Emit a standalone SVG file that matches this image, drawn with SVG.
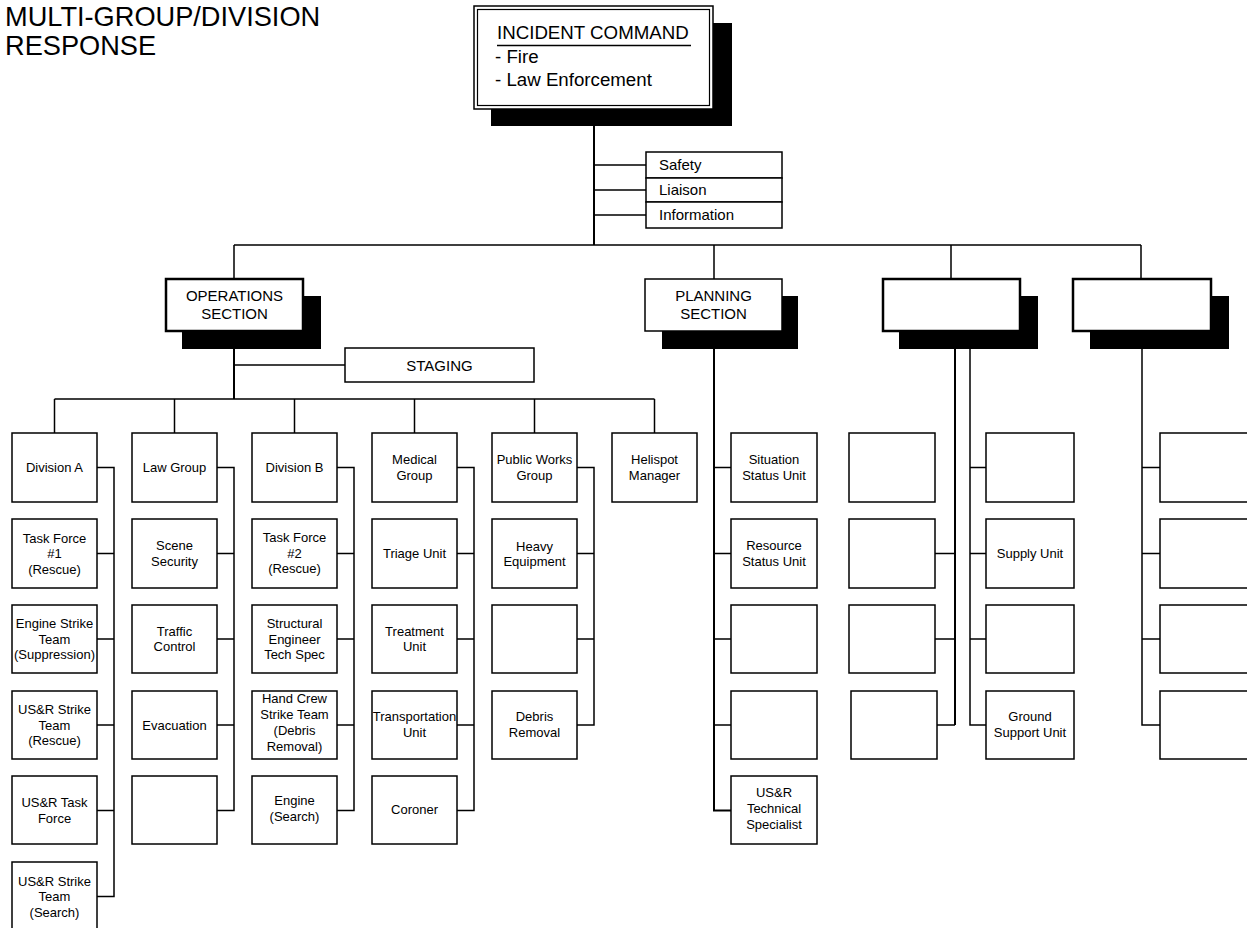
<svg xmlns="http://www.w3.org/2000/svg" width="1247" height="928" viewBox="0 0 1247 928">
  <style>
    text { font-family: "Liberation Sans", Arial, sans-serif; fill: #000; }
    .title { font-size: 27.2px; }
    .ic { font-size: 18.7px; }
    .staff { font-size: 15px; }
    .sec { font-size: 15px; text-anchor: middle; }
    .unit { font-size: 13px; text-anchor: middle; }
    .box { fill: #fff; stroke: #000; stroke-width: 1.5; }
    .secbox { fill: #fff; stroke: #000; stroke-width: 2.5; }
    .secbox-thin { fill: #fff; stroke: #000; stroke-width: 1.5; }
    .shadow { fill: #000; }
    .trunk { fill: none; stroke: #000; stroke-width: 2; }
    .line { fill: none; stroke: #000; stroke-width: 1.5; }
  </style>

  <!-- Title -->
  <text class="title" x="5" y="26">MULTI-GROUP/DIVISION</text>
  <text class="title" x="5" y="55">RESPONSE</text>

  <!-- Connectors -->
  <g id="connectors">
    <!-- command trunk and staff ticks -->
    <path class="trunk" d="M594,106 V245"/>
    <path class="line" d="M594,165 H646 M594,190 H646 M594,215 H646"/>
    <!-- section bar and drops -->
    <path class="line" d="M234,245 H1141 M234,245 V279 M714,245 V279 M951,245 V279 M1141,245 V279"/>
    <!-- operations trunk -->
    <path class="trunk" d="M234,349 V399"/>
    <path class="line" d="M234,365 H345"/>
    <path class="line" d="M54.5,399 H654.5 M54.5,399 V433 M174.5,399 V433 M294.5,399 V433 M414.5,399 V433 M534.5,399 V433 M654.5,399 V433"/>
    <!-- Division A column -->
    <path class="line" d="M97,467.5 H114 V896.5 H97 M97,553.5 H114 M97,639 H114 M97,725 H114 M97,810.5 H114"/>
    <!-- Law Group column -->
    <path class="line" d="M217,467.5 H234 V810.5 H217 M217,553.5 H234 M217,639 H234 M217,725 H234"/>
    <!-- Division B column -->
    <path class="line" d="M337,467.5 H354 V810.5 H337 M337,553.5 H354 M337,639 H354 M337,725 H354"/>
    <!-- Medical Group column -->
    <path class="line" d="M457,467.5 H474 V810.5 H457 M457,553.5 H474 M457,639 H474 M457,725 H474"/>
    <!-- Public Works column -->
    <path class="line" d="M577,467.5 H594 V725 H577 M577,553.5 H594 M577,639 H594"/>
    <!-- Planning column -->
    <path class="trunk" d="M714,349 V810.5 H731"/>
    <path class="line" d="M714,467.5 H731 M714,553.5 H731 M714,639 H731 M714,725 H731"/>
    <!-- third section columns -->
    <path class="trunk" d="M955,349 V725"/>
    <path class="line" d="M934,553.5 H955 M934,639 H955 M937,725 H955"/>
    <path class="line" d="M970,349 V725 H986 M970,467.5 H986 M970,553.5 H986 M970,639 H986"/>
    <!-- fourth section column -->
    <path class="line" d="M1142,349 V725 H1160 M1142,467.5 H1160 M1142,553.5 H1160 M1142,639 H1160"/>
  </g>

  <!-- Incident Command -->
  <g id="incident-command">
    <rect class="shadow" x="491" y="23" width="241" height="103"/>
    <rect class="box" x="474" y="6" width="239" height="103"/>
    <rect fill="none" stroke="#000" stroke-width="1.2" x="477.5" y="9.5" width="232" height="96"/>
    <text class="ic" x="497" y="39">INCIDENT COMMAND</text>
    <line x1="497" y1="45.5" x2="691" y2="45.5" stroke="#000" stroke-width="1.3"/>
    <text class="ic" x="495" y="63">- Fire</text>
    <text class="ic" x="495" y="85.5">- Law Enforcement</text>
  </g>

  <!-- Command staff -->
  <g id="safety">
    <rect class="box" x="646" y="152" width="136" height="26"/>
    <text class="staff" x="659" y="170">Safety</text>
  </g>
  <g id="liaison">
    <rect class="box" x="646" y="178" width="136" height="24"/>
    <text class="staff" x="659" y="195">Liaison</text>
  </g>
  <g id="information">
    <rect class="box" x="646" y="202" width="136" height="26"/>
    <text class="staff" x="659" y="220">Information</text>
  </g>

  <!-- Sections -->
  <g id="operations-section">
    <rect class="shadow" x="182" y="296" width="139" height="53"/>
    <rect class="secbox" x="166" y="279" width="137" height="52"/>
    <text class="sec" x="234.5" y="300.5">OPERATIONS</text>
    <text class="sec" x="234.5" y="318.5">SECTION</text>
  </g>
  <g id="staging">
    <rect class="box" x="345" y="348" width="189" height="34"/>
    <text class="sec" x="439.5" y="370.5">STAGING</text>
  </g>
  <g id="planning-section">
    <rect class="shadow" x="662" y="296" width="136" height="53"/>
    <rect class="secbox-thin" x="645" y="279" width="137" height="52"/>
    <text class="sec" x="713.5" y="300.5">PLANNING</text>
    <text class="sec" x="713.5" y="318.5">SECTION</text>
  </g>
  <g id="section-3">
    <rect class="shadow" x="899" y="296" width="139" height="53"/>
    <rect class="secbox" x="883" y="279" width="137" height="52"/>
  </g>
  <g id="section-4">
    <rect class="shadow" x="1090" y="296" width="139" height="53"/>
    <rect class="secbox" x="1073" y="279" width="138" height="52"/>
  </g>

  <!-- Division A column -->
  <g id="division-a">
    <rect class="box" x="12" y="433" width="85" height="69"/>
    <text class="unit" x="54.5" y="472">Division A</text>
  </g>
  <g id="task-force-1">
    <rect class="box" x="12" y="519" width="85" height="69"/>
    <text class="unit" x="54.5" y="542.5">Task Force</text>
    <text class="unit" x="54.5" y="558">#1</text>
    <text class="unit" x="54.5" y="573.5">(Rescue)</text>
  </g>
  <g id="engine-strike-team">
    <rect class="box" x="12" y="605" width="85" height="68"/>
    <text class="unit" x="54.5" y="628">Engine Strike</text>
    <text class="unit" x="54.5" y="643.5">Team</text>
    <text class="unit" x="54.5" y="659">(Suppression)</text>
  </g>
  <g id="usr-strike-team-rescue">
    <rect class="box" x="12" y="691" width="85" height="68"/>
    <text class="unit" x="54.5" y="714">US&amp;R Strike</text>
    <text class="unit" x="54.5" y="729.5">Team</text>
    <text class="unit" x="54.5" y="745">(Rescue)</text>
  </g>
  <g id="usr-task-force">
    <rect class="box" x="12" y="776" width="85" height="68"/>
    <text class="unit" x="54.5" y="807">US&amp;R Task</text>
    <text class="unit" x="54.5" y="822.5">Force</text>
  </g>
  <g id="usr-strike-team-search">
    <rect class="box" x="12" y="862" width="85" height="69"/>
    <text class="unit" x="54.5" y="885.5">US&amp;R Strike</text>
    <text class="unit" x="54.5" y="901">Team</text>
    <text class="unit" x="54.5" y="916.5">(Search)</text>
  </g>

  <!-- Law Group column -->
  <g id="law-group">
    <rect class="box" x="132" y="433" width="85" height="69"/>
    <text class="unit" x="174.5" y="472">Law Group</text>
  </g>
  <g id="scene-security">
    <rect class="box" x="132" y="519" width="85" height="69"/>
    <text class="unit" x="174.5" y="550">Scene</text>
    <text class="unit" x="174.5" y="565.5">Security</text>
  </g>
  <g id="traffic-control">
    <rect class="box" x="132" y="605" width="85" height="68"/>
    <text class="unit" x="174.5" y="635.5">Traffic</text>
    <text class="unit" x="174.5" y="651">Control</text>
  </g>
  <g id="evacuation">
    <rect class="box" x="132" y="691" width="85" height="68"/>
    <text class="unit" x="174.5" y="729.5">Evacuation</text>
  </g>
  <g id="law-blank">
    <rect class="box" x="132" y="776" width="85" height="68"/>
  </g>

  <!-- Division B column -->
  <g id="division-b">
    <rect class="box" x="252" y="433" width="85" height="69"/>
    <text class="unit" x="294.5" y="472">Division B</text>
  </g>
  <g id="task-force-2">
    <rect class="box" x="252" y="519" width="85" height="69"/>
    <text class="unit" x="294.5" y="542">Task Force</text>
    <text class="unit" x="294.5" y="557.5">#2</text>
    <text class="unit" x="294.5" y="573">(Rescue)</text>
  </g>
  <g id="structural-engineer">
    <rect class="box" x="252" y="605" width="85" height="68"/>
    <text class="unit" x="294.5" y="627.5">Structural</text>
    <text class="unit" x="294.5" y="643.5">Engineer</text>
    <text class="unit" x="294.5" y="659">Tech Spec</text>
  </g>
  <g id="hand-crew">
    <rect class="box" x="252" y="691" width="85" height="68"/>
    <text class="unit" x="294.5" y="703">Hand Crew</text>
    <text class="unit" x="294.5" y="719">Strike Team</text>
    <text class="unit" x="294.5" y="735">(Debris</text>
    <text class="unit" x="294.5" y="751">Removal)</text>
  </g>
  <g id="engine-search">
    <rect class="box" x="252" y="776" width="85" height="68"/>
    <text class="unit" x="294.5" y="804.5">Engine</text>
    <text class="unit" x="294.5" y="820.5">(Search)</text>
  </g>

  <!-- Medical Group column -->
  <g id="medical-group">
    <rect class="box" x="372" y="433" width="85" height="69"/>
    <text class="unit" x="414.5" y="464">Medical</text>
    <text class="unit" x="414.5" y="480">Group</text>
  </g>
  <g id="triage-unit">
    <rect class="box" x="372" y="519" width="85" height="69"/>
    <text class="unit" x="414.5" y="558">Triage Unit</text>
  </g>
  <g id="treatment-unit">
    <rect class="box" x="372" y="605" width="85" height="68"/>
    <text class="unit" x="414.5" y="635.5">Treatment</text>
    <text class="unit" x="414.5" y="651">Unit</text>
  </g>
  <g id="transportation-unit">
    <rect class="box" x="372" y="691" width="85" height="68"/>
    <text class="unit" x="414.5" y="721">Transportation</text>
    <text class="unit" x="414.5" y="737">Unit</text>
  </g>
  <g id="coroner">
    <rect class="box" x="372" y="776" width="85" height="68"/>
    <text class="unit" x="414.5" y="814">Coroner</text>
  </g>

  <!-- Public Works column -->
  <g id="public-works-group">
    <rect class="box" x="492" y="433" width="85" height="69"/>
    <text class="unit" x="534.5" y="464">Public Works</text>
    <text class="unit" x="534.5" y="480">Group</text>
  </g>
  <g id="heavy-equipment">
    <rect class="box" x="492" y="519" width="85" height="69"/>
    <text class="unit" x="534.5" y="550.5">Heavy</text>
    <text class="unit" x="534.5" y="565.5">Equipment</text>
  </g>
  <g id="public-works-blank">
    <rect class="box" x="492" y="605" width="85" height="68"/>
  </g>
  <g id="debris-removal">
    <rect class="box" x="492" y="691" width="85" height="68"/>
    <text class="unit" x="534.5" y="721">Debris</text>
    <text class="unit" x="534.5" y="737">Removal</text>
  </g>

  <!-- Helispot -->
  <g id="helispot-manager">
    <rect class="box" x="612" y="433" width="85" height="69"/>
    <text class="unit" x="654.5" y="464">Helispot</text>
    <text class="unit" x="654.5" y="480">Manager</text>
  </g>

  <!-- Planning column -->
  <g id="situation-status-unit">
    <rect class="box" x="731" y="433" width="86" height="69"/>
    <text class="unit" x="774" y="464">Situation</text>
    <text class="unit" x="774" y="480">Status Unit</text>
  </g>
  <g id="resource-status-unit">
    <rect class="box" x="731" y="519" width="86" height="69"/>
    <text class="unit" x="774" y="550">Resource</text>
    <text class="unit" x="774" y="565.5">Status Unit</text>
  </g>
  <g id="planning-blank-1">
    <rect class="box" x="731" y="605" width="86" height="68"/>
  </g>
  <g id="planning-blank-2">
    <rect class="box" x="731" y="691" width="86" height="68"/>
  </g>
  <g id="usr-technical-specialist">
    <rect class="box" x="731" y="776" width="86" height="68"/>
    <text class="unit" x="774" y="796.5">US&amp;R</text>
    <text class="unit" x="774" y="812.5">Technical</text>
    <text class="unit" x="774" y="828.5">Specialist</text>
  </g>

  <!-- Third section, left column -->
  <g id="s3-left-1">
    <rect class="box" x="849" y="433" width="86" height="69"/>
  </g>
  <g id="s3-left-2">
    <rect class="box" x="849" y="519" width="86" height="69"/>
  </g>
  <g id="s3-left-3">
    <rect class="box" x="849" y="605" width="86" height="68"/>
  </g>
  <g id="s3-left-4">
    <rect class="box" x="851" y="691" width="86" height="68"/>
  </g>

  <!-- Third section, right column -->
  <g id="s3-right-1">
    <rect class="box" x="986" y="433" width="88" height="69"/>
  </g>
  <g id="supply-unit">
    <rect class="box" x="986" y="519" width="88" height="69"/>
    <text class="unit" x="1030" y="558">Supply Unit</text>
  </g>
  <g id="s3-right-3">
    <rect class="box" x="986" y="605" width="88" height="68"/>
  </g>
  <g id="ground-support-unit">
    <rect class="box" x="986" y="691" width="88" height="68"/>
    <text class="unit" x="1030" y="721">Ground</text>
    <text class="unit" x="1030" y="737">Support Unit</text>
  </g>

  <!-- Fourth section column -->
  <g id="s4-1">
    <rect class="box" x="1160" y="433" width="88" height="69"/>
  </g>
  <g id="s4-2">
    <rect class="box" x="1160" y="519" width="88" height="69"/>
  </g>
  <g id="s4-3">
    <rect class="box" x="1160" y="605" width="88" height="68"/>
  </g>
  <g id="s4-4">
    <rect class="box" x="1160" y="691" width="88" height="68"/>
  </g>
</svg>
